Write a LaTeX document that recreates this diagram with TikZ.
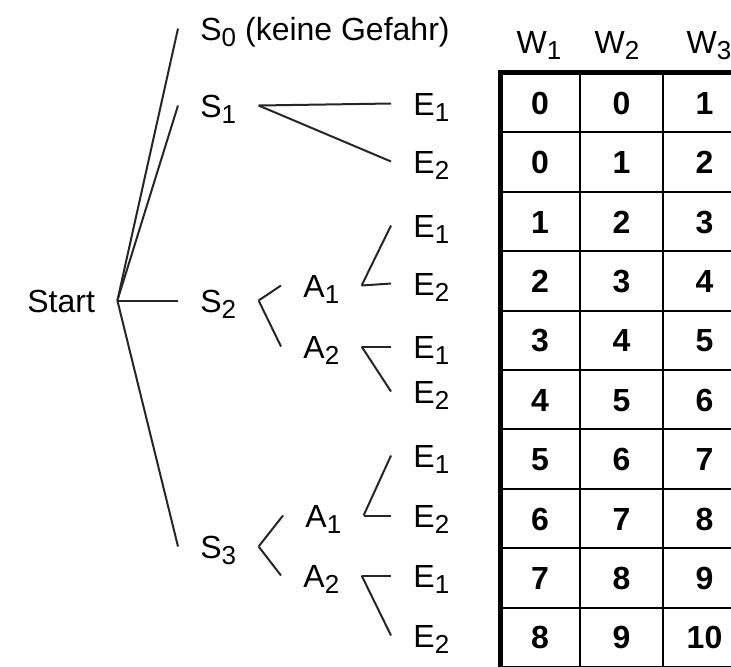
\documentclass[tikz,border=0pt]{standalone}
\usepackage{fontspec}
\setmainfont{Liberation Sans}
\usepackage{tikz}
\newcommand{\lowidx}[1]{\raisebox{-3pt}{\fontsize{13}{13}\selectfont #1}}

\begin{document}
\begin{tikzpicture}[
    x=0.5pt, y=-0.5pt,
    font=\fontsize{16}{19}\selectfont,
    lbl/.style={
        anchor=west, inner xsep=11pt, inner ysep=0pt,
        text height=11.5pt, text depth=0pt
    },
    head/.style={
        inner sep=0pt, text height=11.5pt, text depth=0pt
    },
    num/.style={
        font=\fontsize{16}{19}\selectfont\bfseries,
        inner sep=0pt, text height=11.5pt, text depth=0pt
    },
    branch/.style={draw=black!85, line width=1pt},
    grid/.style={draw=black, line width=1pt},
    frame/.style={draw=black, line width=2.5pt}
]
    \clip (0,0) rectangle (731,666);
    \fill[white] (0,0) rectangle (731,666);

    \node[lbl] (start) at (5,300.5) {Start};
    \node[lbl] (s0) at (178,28.5) {S\lowidx{0} (keine Gefahr)};
    \node[lbl] (s1) at (178,105.5) {S\lowidx{1}};
    \node[lbl] (s2) at (178,300.5) {S\lowidx{2}};
    \node[lbl] (s3) at (178,546.5) {S\lowidx{3}};

    \node[lbl] (s1e1) at (391,103.5) {E\lowidx{1}};
    \node[lbl] (s1e2) at (391,161.5) {E\lowidx{2}};

    \node[lbl] (s2a1) at (281,285.5) {A\lowidx{1}};
    \node[lbl] (s2a2) at (281,346.5) {A\lowidx{2}};
    \node[lbl] (s2a1e1) at (391,225.5) {E\lowidx{1}};
    \node[lbl] (s2a1e2) at (391,283.5) {E\lowidx{2}};
    \node[lbl] (s2a2e1) at (391,346.5) {E\lowidx{1}};
    \node[lbl] (s2a2e2) at (391,391.5) {E\lowidx{2}};

    \node[lbl] (s3a1) at (283,515.5) {A\lowidx{1}};
    \node[lbl] (s3a2) at (281,575.5) {A\lowidx{2}};
    \node[lbl] (s3a1e1) at (391,455.5) {E\lowidx{1}};
    \node[lbl] (s3a1e2) at (391,515.5) {E\lowidx{2}};
    \node[lbl] (s3a2e1) at (391,575.5) {E\lowidx{1}};
    \node[lbl] (s3a2e2) at (391,635.5) {E\lowidx{2}};

    \foreach \s in {s0,s1,s2,s3}
        \draw[branch] (start.east) -- (\s.west);
    \draw[branch] (s1.east) -- (s1e1.west);
    \draw[branch] (s1.east) -- (s1e2.west);
    \foreach \t in {2,3} {
        \draw[branch] (s\t.east) -- (s\t a1.west);
        \draw[branch] (s\t.east) -- (s\t a2.west);
        \foreach \a in {1,2} {
            \draw[branch] (s\t a\a.east) -- (s\t a\a e1.west);
            \draw[branch] (s\t a\a.east) -- (s\t a\a e2.west);
        }
    }

    \node[head] (w1) at (539,41.5) {W\lowidx{1}};
    \node[head] (w2) at (617,41.5) {W\lowidx{2}};
    \node[head] (w3) at (709,41.5) {W\lowidx{3}};

    \foreach \k in {1,...,10}
        \draw[grid] (500,{73+59.4*\k}) -- (746,{73+59.4*\k});
    \foreach \xx in {580,663,746}
        \draw[grid] (\xx,72) -- (\xx,680);
    \draw[frame] (500,72.5) -- (746,72.5);
    \draw[frame] (500,70) -- (500,680);

    \foreach \a/\b/\c [count=\r] in {0/0/1, 0/1/2, 1/2/3, 2/3/4, 3/4/5,
                                     4/5/6, 5/6/7, 6/7/8, 7/8/9, 8/9/10} {
        \node[num] (c\r-1) at (540,{73+59.4*(\r-0.5)}) {\a};
        \node[num] (c\r-2) at (621.5,{73+59.4*(\r-0.5)}) {\b};
        \node[num] (c\r-3) at (704.5,{73+59.4*(\r-0.5)}) {\c};
    }
\end{tikzpicture}
\end{document}
